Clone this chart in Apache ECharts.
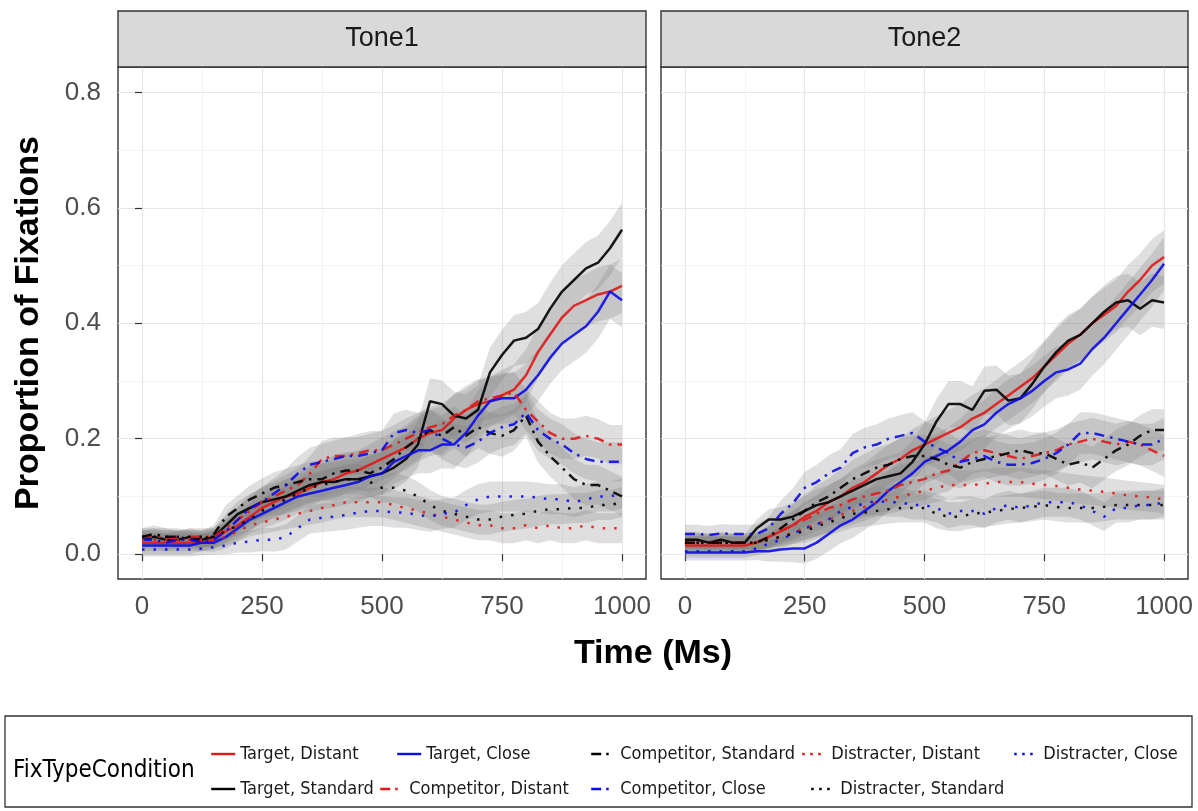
<!DOCTYPE html>
<html>
<head>
<meta charset="utf-8">
<script src="https://cdn.jsdelivr.net/npm/echarts@6/dist/echarts.min.js"></script>
<style>
  html, body { margin: 0; padding: 0; background: #fff; }
  #chart { width: 1198px; height: 811px; }
</style>
</head>
<body>
<div id="chart"></div>
<script>
// time points (ms)
var times = [0, 25, 50, 75, 100, 125, 150, 175, 200, 225,
  250, 275, 300, 325, 350, 375, 400, 425, 450, 475,
  500, 525, 550, 575, 600, 625, 650, 675, 700, 725,
  750, 775, 800, 825, 850, 875, 900, 925, 950, 975, 1000];

var xTicks = [0, 250, 500, 750, 1000];
var xMinor = [125, 375, 625, 875];
var yTicks = [0, 0.2, 0.4, 0.6, 0.8];
var yMinor = [0.1, 0.3, 0.5, 0.7];
var panelNames = ['Tone1', 'Tone2'];

var seriesNames = ['Target, Distant', 'Target, Standard', 'Target, Close',
  'Competitor, Distant', 'Competitor, Standard', 'Competitor, Close',
  'Distracter, Distant', 'Distracter, Standard', 'Distracter, Close'];

// ---- Tone1 ----
var t1TargetDistant = [0.02, 0.02, 0.02, 0.02, 0.02, 0.02, 0.025, 0.04, 0.05, 0.065,
  0.08, 0.09, 0.10, 0.105, 0.115, 0.125, 0.13, 0.14, 0.145, 0.155,
  0.165, 0.175, 0.185, 0.20, 0.21, 0.215, 0.235, 0.25, 0.26, 0.265,
  0.275, 0.285, 0.31, 0.35, 0.38, 0.41, 0.43, 0.44, 0.45, 0.455, 0.465];
var t1TargetStandard = [0.025, 0.03, 0.025, 0.025, 0.03, 0.025, 0.03, 0.05, 0.07, 0.08,
  0.09, 0.095, 0.10, 0.11, 0.12, 0.125, 0.125, 0.13, 0.13, 0.135,
  0.14, 0.15, 0.165, 0.19, 0.265, 0.26, 0.24, 0.235, 0.25, 0.315,
  0.345, 0.37, 0.375, 0.39, 0.425, 0.455, 0.475, 0.495, 0.505, 0.53, 0.562];
var t1TargetClose = [0.015, 0.015, 0.015, 0.015, 0.015, 0.02, 0.02, 0.03, 0.045, 0.06,
  0.07, 0.08, 0.09, 0.10, 0.105, 0.11, 0.115, 0.12, 0.125, 0.135,
  0.14, 0.16, 0.17, 0.18, 0.18, 0.19, 0.19, 0.21, 0.24, 0.265,
  0.27, 0.27, 0.285, 0.31, 0.34, 0.365, 0.38, 0.395, 0.42, 0.455, 0.44];
var t1CompDistant = [0.03, 0.03, 0.03, 0.025, 0.03, 0.03, 0.03, 0.045, 0.06, 0.075,
  0.09, 0.10, 0.11, 0.12, 0.14, 0.165, 0.17, 0.17, 0.175, 0.18,
  0.18, 0.19, 0.20, 0.21, 0.22, 0.225, 0.24, 0.25, 0.265, 0.27,
  0.275, 0.28, 0.25, 0.23, 0.21, 0.20, 0.20, 0.205, 0.20, 0.19, 0.19];
var t1CompStandard = [0.03, 0.035, 0.03, 0.03, 0.025, 0.025, 0.035, 0.065, 0.08, 0.095,
  0.105, 0.115, 0.12, 0.125, 0.13, 0.13, 0.14, 0.145, 0.145, 0.14,
  0.15, 0.165, 0.185, 0.20, 0.215, 0.205, 0.22, 0.205, 0.22, 0.21,
  0.205, 0.215, 0.24, 0.195, 0.17, 0.15, 0.13, 0.12, 0.12, 0.11, 0.10];
var t1CompClose = [0.025, 0.025, 0.02, 0.025, 0.025, 0.02, 0.025, 0.04, 0.06, 0.08,
  0.09, 0.105, 0.12, 0.14, 0.155, 0.16, 0.165, 0.17, 0.17, 0.175,
  0.18, 0.21, 0.215, 0.21, 0.215, 0.20, 0.19, 0.185, 0.195, 0.21,
  0.22, 0.225, 0.245, 0.215, 0.20, 0.19, 0.175, 0.165, 0.16, 0.16, 0.16];
var t1DistDistant = [0.025, 0.025, 0.025, 0.025, 0.025, 0.025, 0.025, 0.03, 0.04, 0.05,
  0.055, 0.06, 0.065, 0.07, 0.075, 0.08, 0.085, 0.09, 0.09, 0.09,
  0.09, 0.085, 0.08, 0.075, 0.07, 0.065, 0.06, 0.055, 0.05, 0.05,
  0.045, 0.045, 0.05, 0.045, 0.05, 0.045, 0.045, 0.05, 0.045, 0.045, 0.045];
var t1DistStandard = [0.03, 0.03, 0.03, 0.03, 0.03, 0.03, 0.03, 0.04, 0.05, 0.06,
  0.075, 0.085, 0.095, 0.105, 0.115, 0.12, 0.125, 0.13, 0.13, 0.125,
  0.115, 0.115, 0.11, 0.10, 0.085, 0.075, 0.07, 0.065, 0.06, 0.06,
  0.065, 0.068, 0.07, 0.075, 0.078, 0.078, 0.08, 0.08, 0.085, 0.085, 0.09];
var t1DistClose = [0.008, 0.008, 0.008, 0.008, 0.008, 0.01, 0.012, 0.015, 0.02, 0.022,
  0.025, 0.025, 0.03, 0.045, 0.06, 0.063, 0.065, 0.068, 0.072, 0.075,
  0.075, 0.072, 0.072, 0.068, 0.065, 0.07, 0.072, 0.085, 0.095, 0.10,
  0.10, 0.10, 0.10, 0.098, 0.095, 0.095, 0.09, 0.095, 0.10, 0.10, 0.105];

// ---- Tone2 ----
var t2TargetDistant = [0.015, 0.015, 0.015, 0.015, 0.015, 0.015, 0.02, 0.03, 0.04, 0.05,
  0.065, 0.075, 0.09, 0.10, 0.115, 0.125, 0.14, 0.155, 0.165, 0.18,
  0.19, 0.20, 0.21, 0.22, 0.235, 0.245, 0.26, 0.275, 0.29, 0.305,
  0.325, 0.345, 0.365, 0.38, 0.40, 0.415, 0.43, 0.455, 0.475, 0.50, 0.515];
var t2TargetStandard = [0.025, 0.025, 0.02, 0.025, 0.02, 0.02, 0.045, 0.06, 0.06, 0.065,
  0.075, 0.085, 0.09, 0.10, 0.11, 0.12, 0.13, 0.135, 0.14, 0.16,
  0.19, 0.23, 0.26, 0.26, 0.25, 0.283, 0.285, 0.266, 0.27, 0.295,
  0.325, 0.35, 0.37, 0.38, 0.40, 0.42, 0.436, 0.44, 0.425, 0.44, 0.436];
var t2TargetClose = [0.003, 0.003, 0.003, 0.003, 0.003, 0.003, 0.005, 0.005, 0.008, 0.01,
  0.01, 0.02, 0.035, 0.05, 0.06, 0.075, 0.09, 0.11, 0.125, 0.14,
  0.16, 0.17, 0.18, 0.195, 0.215, 0.225, 0.245, 0.26, 0.27, 0.283,
  0.30, 0.315, 0.32, 0.33, 0.355, 0.375, 0.40, 0.425, 0.45, 0.475, 0.503];
var t2CompDistant = [0.02, 0.02, 0.02, 0.02, 0.02, 0.02, 0.02, 0.03, 0.04, 0.05,
  0.06, 0.07, 0.08, 0.085, 0.095, 0.10, 0.105, 0.11, 0.12, 0.125,
  0.13, 0.14, 0.145, 0.16, 0.175, 0.18, 0.175, 0.17, 0.165, 0.17,
  0.175, 0.18, 0.19, 0.195, 0.20, 0.195, 0.19, 0.195, 0.19, 0.18, 0.17];
var t2CompStandard = [0.02, 0.02, 0.02, 0.02, 0.02, 0.02, 0.02, 0.03, 0.045, 0.06,
  0.075, 0.09, 0.10, 0.115, 0.13, 0.14, 0.15, 0.155, 0.165, 0.17,
  0.17, 0.165, 0.155, 0.15, 0.16, 0.165, 0.17, 0.175, 0.18, 0.175,
  0.175, 0.165, 0.155, 0.16, 0.15, 0.165, 0.18, 0.19, 0.205, 0.215, 0.215];
var t2CompClose = [0.035, 0.035, 0.033, 0.036, 0.035, 0.035, 0.035, 0.045, 0.07, 0.088,
  0.115, 0.125, 0.14, 0.15, 0.175, 0.185, 0.19, 0.20, 0.205, 0.21,
  0.195, 0.185, 0.175, 0.16, 0.165, 0.17, 0.16, 0.155, 0.155, 0.158,
  0.165, 0.175, 0.19, 0.21, 0.21, 0.205, 0.20, 0.195, 0.19, 0.19, 0.20];
var t2DistDistant = [0.02, 0.02, 0.02, 0.02, 0.02, 0.02, 0.02, 0.025, 0.03, 0.038,
  0.045, 0.052, 0.06, 0.068, 0.075, 0.082, 0.09, 0.095, 0.10, 0.105,
  0.11, 0.115, 0.12, 0.12, 0.12, 0.122, 0.125, 0.125, 0.125, 0.122,
  0.12, 0.118, 0.115, 0.112, 0.11, 0.108, 0.105, 0.102, 0.10, 0.098, 0.095];
var t2DistStandard = [0.02, 0.02, 0.02, 0.02, 0.02, 0.02, 0.02, 0.025, 0.03, 0.035,
  0.04, 0.048, 0.055, 0.062, 0.07, 0.072, 0.075, 0.078, 0.08, 0.08,
  0.08, 0.07, 0.065, 0.065, 0.07, 0.072, 0.075, 0.078, 0.08, 0.082,
  0.085, 0.082, 0.08, 0.08, 0.08, 0.082, 0.085, 0.085, 0.085, 0.085, 0.085];
var t2DistClose = [0.005, 0.005, 0.005, 0.005, 0.005, 0.005, 0.01, 0.018, 0.025, 0.035,
  0.045, 0.052, 0.06, 0.075, 0.082, 0.088, 0.092, 0.09, 0.09, 0.085,
  0.085, 0.08, 0.07, 0.075, 0.075, 0.07, 0.08, 0.085, 0.08, 0.085,
  0.09, 0.09, 0.09, 0.085, 0.075, 0.065, 0.08, 0.08, 0.085, 0.085, 0.09];

// ribbon half widths (standard error), per panel and fixation type
var se1Target = [0.015, 0.015, 0.015, 0.015, 0.015, 0.015, 0.016, 0.02, 0.022, 0.024,
  0.026, 0.028, 0.03, 0.03, 0.032, 0.032, 0.034, 0.034, 0.035, 0.036,
  0.037, 0.038, 0.039, 0.04, 0.04, 0.041, 0.042, 0.042, 0.043, 0.043,
  0.044, 0.044, 0.045, 0.045, 0.045, 0.046, 0.046, 0.046, 0.047, 0.047, 0.047];
var se1Comp = [0.015, 0.015, 0.015, 0.015, 0.015, 0.015, 0.016, 0.02, 0.022, 0.024,
  0.026, 0.027, 0.028, 0.029, 0.03, 0.031, 0.032, 0.032, 0.033, 0.033,
  0.034, 0.034, 0.035, 0.035, 0.035, 0.036, 0.036, 0.036, 0.036, 0.036,
  0.036, 0.036, 0.036, 0.036, 0.035, 0.035, 0.035, 0.035, 0.034, 0.034, 0.034];
var se1Dist = [0.012, 0.012, 0.012, 0.012, 0.012, 0.012, 0.013, 0.015, 0.017, 0.019,
  0.02, 0.021, 0.022, 0.023, 0.024, 0.025, 0.025, 0.026, 0.026, 0.026,
  0.026, 0.026, 0.026, 0.026, 0.026, 0.026, 0.026, 0.026, 0.026, 0.026,
  0.026, 0.026, 0.026, 0.026, 0.026, 0.026, 0.026, 0.026, 0.026, 0.026, 0.026];
var se2Target = [0.014, 0.014, 0.014, 0.014, 0.014, 0.014, 0.015, 0.018, 0.021, 0.024,
  0.026, 0.028, 0.03, 0.031, 0.032, 0.033, 0.034, 0.035, 0.036, 0.037,
  0.038, 0.039, 0.04, 0.04, 0.041, 0.042, 0.042, 0.043, 0.043, 0.044,
  0.044, 0.045, 0.045, 0.045, 0.046, 0.046, 0.046, 0.046, 0.046, 0.046, 0.046];
var se2Comp = [0.016, 0.016, 0.016, 0.016, 0.016, 0.016, 0.017, 0.02, 0.023, 0.026,
  0.028, 0.03, 0.031, 0.032, 0.033, 0.034, 0.035, 0.035, 0.036, 0.036,
  0.036, 0.036, 0.036, 0.036, 0.036, 0.036, 0.036, 0.036, 0.036, 0.036,
  0.036, 0.036, 0.036, 0.036, 0.036, 0.036, 0.036, 0.036, 0.036, 0.036, 0.036];
var se2Dist = [0.011, 0.011, 0.011, 0.011, 0.011, 0.011, 0.012, 0.014, 0.016, 0.018,
  0.02, 0.021, 0.022, 0.023, 0.024, 0.024, 0.025, 0.025, 0.025, 0.025,
  0.025, 0.025, 0.025, 0.025, 0.025, 0.025, 0.025, 0.025, 0.025, 0.025,
  0.025, 0.025, 0.025, 0.025, 0.025, 0.025, 0.025, 0.025, 0.025, 0.025, 0.025];

var tone1 = [t1TargetDistant, t1TargetStandard, t1TargetClose,
  t1CompDistant, t1CompStandard, t1CompClose,
  t1DistDistant, t1DistStandard, t1DistClose];
var tone2 = [t2TargetDistant, t2TargetStandard, t2TargetClose,
  t2CompDistant, t2CompStandard, t2CompClose,
  t2DistDistant, t2DistStandard, t2DistClose];
var seTone1 = [se1Target, se1Target, se1Target, se1Comp, se1Comp, se1Comp, se1Dist, se1Dist, se1Dist];
var seTone2 = [se2Target, se2Target, se2Target, se2Comp, se2Comp, se2Comp, se2Dist, se2Dist, se2Dist];

// 스타일: 색은 조건, 선 종류는 응시 유형
var colors = ['#e01818', '#000000', '#0b0bea'];
var plotDash = ['solid', [10, 6, 2.5, 6], [2.5, 9]];
var keyDash = ['solid', [10, 5, 2.5, 7], [2.5, 5.5]];

var narrowFont = "'Liberation Sans Narrow', 'Arial Narrow', 'DejaVu Sans Condensed', sans-serif";
var baseFont = "'Liberation Sans', Arial, sans-serif";

var chart = echarts.init(document.getElementById('chart'));

var panels = [
  { left: 118, width: 528 },
  { left: 661, width: 527 }
];

var grids = panels.map(function (p) {
  return { left: p.left, top: 67, width: p.width, height: 512, show: true,
    borderColor: '#333333', borderWidth: 1.4, backgroundColor: 'transparent' };
});

var xAxes = [];
var yAxes = [];
panels.forEach(function (p, g) {
  xAxes.push({
    type: 'value', gridIndex: g, min: -50, max: 1050,
    axisLine: { show: false },
    axisTick: { show: true, length: 7, customValues: xTicks, lineStyle: { color: '#333333', width: 1.2 } },
    axisLabel: { customValues: xTicks, color: '#4D4D4D', fontSize: 26, margin: 15, fontFamily: baseFont,
      formatter: function (v) { return String(v); } },
    splitLine: { show: true, lineStyle: { color: '#E6E6E6', width: 1.2 } }
  });
  yAxes.push({
    type: 'value', gridIndex: g, min: -0.043, max: 0.844,
    axisLine: { show: false },
    axisTick: { show: g === 0, length: 7, customValues: yTicks, lineStyle: { color: '#333333', width: 1.2 } },
    axisLabel: { show: g === 0, customValues: yTicks, color: '#4D4D4D', fontSize: 26, margin: 17,
      fontFamily: baseFont, formatter: function (v) { return v.toFixed(1); } },
    splitLine: { show: true, lineStyle: { color: '#E6E6E6', width: 1.2 } },
    name: g === 0 ? 'Proportion of Fixations' : '',
    nameLocation: 'middle', nameRotate: 90, nameGap: 72,
    nameTextStyle: { fontSize: 34, fontWeight: 'bold', color: '#000', fontFamily: baseFont }
  });
});
// 보조 격자선 (minor grid)
panels.forEach(function (p, g) {
  xAxes.push({
    type: 'value', gridIndex: g, min: -50, max: 1050, position: 'top',
    axisLine: { show: false }, axisLabel: { show: false },
    axisTick: { show: false, customValues: xMinor },
    splitLine: { show: true, lineStyle: { color: '#F0F0F0', width: 0.8 } }
  });
  yAxes.push({
    type: 'value', gridIndex: g, min: -0.043, max: 0.844, position: 'right',
    axisLine: { show: false }, axisLabel: { show: false },
    axisTick: { show: false, customValues: yMinor },
    splitLine: { show: true, lineStyle: { color: '#F0F0F0', width: 0.8 } }
  });
});

var series = [];

// 신뢰구간 리본 (drawn under the lines)
[[tone1, seTone1], [tone2, seTone2]].forEach(function (pair, g) {
  var means = pair[0], ses = pair[1];
  series.push({
    type: 'custom', xAxisIndex: g, yAxisIndex: g, z: 1, silent: true,
    data: means.map(function (m, i) { return [i, 0]; }),
    renderItem: function (params, api) {
      var m = means[params.dataIndex], s = ses[params.dataIndex];
      var pts = [];
      for (var k = 0; k < times.length; k++) pts.push(api.coord([times[k], m[k] + s[k]]));
      for (var k2 = times.length - 1; k2 >= 0; k2--) pts.push(api.coord([times[k2], m[k2] - s[k2]]));
      return { type: 'polygon', shape: { points: pts }, style: { fill: 'rgba(120,120,120,0.24)' } };
    }
  });
});

[tone1, tone2].forEach(function (panelData, g) {
  panelData.forEach(function (vals, i) {
    series.push({
      name: seriesNames[i], type: 'line', xAxisIndex: g, yAxisIndex: g,
      symbol: 'none', z: 2, silent: true,
      lineStyle: { color: colors[i % 3], width: 2.5, type: plotDash[Math.floor(i / 3)], opacity: 0.9 },
      itemStyle: { color: colors[i % 3] },
      data: times.map(function (t, k) { return [t, vals[k]]; })
    });
  });
});

// legend: one component per key, laid out like the ggplot guide
var legendSpots = [[210, 756], [210, 791], [396, 756], [379, 791], [590, 756], [590, 791], [801, 756], [810, 791], [1013, 756]];
var legends = seriesNames.map(function (name, i) {
  return {
    left: legendSpots[i][0], top: legendSpots[i][1] - 11, padding: 0,
    itemWidth: 24, itemHeight: 22, selectedMode: false,
    data: [name],
    itemStyle: { opacity: 0 },
    lineStyle: { type: keyDash[Math.floor(i / 3)], width: 2.4, opacity: 1 },
    textStyle: { fontSize: 18, color: '#1A1A1A', fontFamily: narrowFont }
  };
});

var graphics = [];
panels.forEach(function (p, g) {
  graphics.push({ type: 'rect', shape: { x: p.left, y: 11, width: p.width, height: 56 },
    style: { fill: '#D9D9D9', stroke: '#333333', lineWidth: 1.4 }, z: 10 });
  graphics.push({ type: 'text', x: p.left + p.width / 2, y: 39, z: 11,
    style: { text: panelNames[g], fill: '#1A1A1A', fontSize: 27, fontFamily: baseFont,
      textAlign: 'center', textVerticalAlign: 'middle' } });
});
graphics.push({ type: 'text', x: 653, y: 654, z: 11,
  style: { text: 'Time (Ms)', fill: '#000', fontSize: 34, fontWeight: 'bold', fontFamily: baseFont,
    textAlign: 'center', textVerticalAlign: 'middle' } });
graphics.push({ type: 'rect', shape: { x: 5, y: 716, width: 1187, height: 91 },
  style: { fill: 'none', stroke: '#333333', lineWidth: 1.3 }, z: 1 });
graphics.push({ type: 'text', x: 13, y: 771, z: 11,
  style: { text: 'FixTypeCondition', fill: '#000', fontSize: 24, fontFamily: narrowFont,
    textAlign: 'left', textVerticalAlign: 'middle' } });

chart.setOption({
  animation: false,
  backgroundColor: '#ffffff',
  grid: grids,
  xAxis: xAxes,
  yAxis: yAxes,
  legend: legends,
  graphic: graphics,
  series: series
});
</script>
</body>
</html>
